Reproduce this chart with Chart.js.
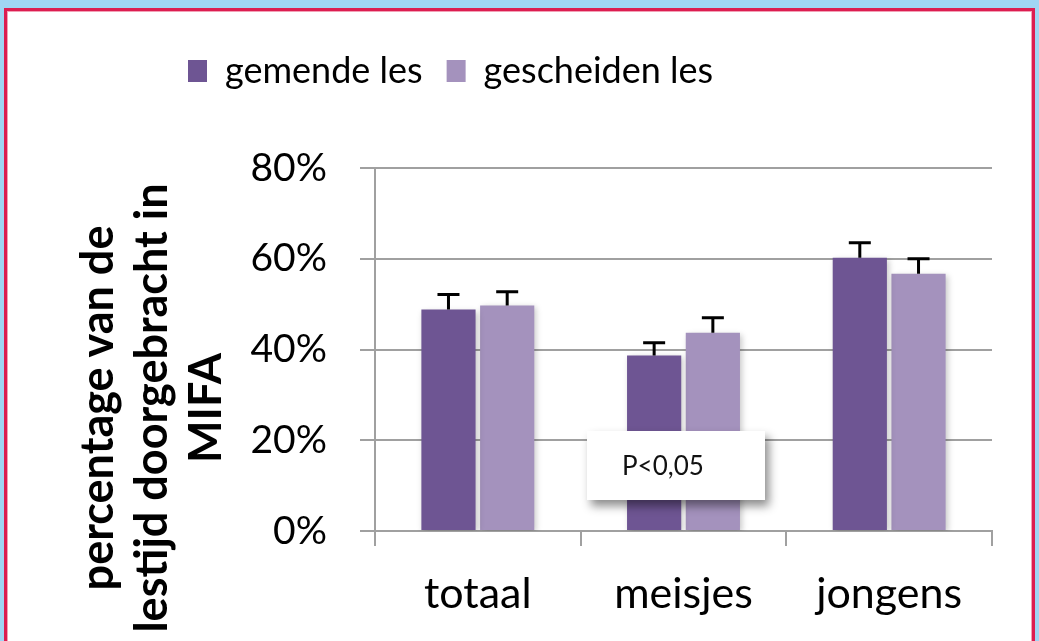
<!DOCTYPE html>
<html>
<head>
<meta charset="utf-8">
<script src="https://cdn.jsdelivr.net/npm/chart.js@4.4.1/dist/chart.umd.min.js"></script>
<style>
  html, body { margin: 0; padding: 0; }
  body { width: 1039px; height: 641px; overflow: hidden; background: #a0d5f3; position: relative; font-family: Lato, sans-serif; }
  #panel { position: absolute; left: 4px; top: 8px; width: 1025px; height: 700px; background: #fff;
           border: 3px solid #dc1d50; box-shadow: inset 0 0 0 1px #f3a0b6; }
  #chart { position: absolute; left: 0; top: 0; }
  #ytitle { position: absolute; left: -94px; top: 321px; width: 500px; height: 174px; line-height: 58px;
            text-align: center; font: bold 45px Lato, sans-serif; color: #000; transform: rotate(-90deg); }
  #pbox { position: absolute; left: 587px; top: 431px; width: 178px; height: 69px; background: #fff;
          box-shadow: 4px 6px 9px rgba(0,0,0,0.45); font: 26px Lato, sans-serif; color: #111; }
  #pbox span { position: absolute; left: 35px; top: 18px; }
</style>
</head>
<body>
<div id="panel"></div>
<canvas id="chart" width="1039" height="641"></canvas>
<div id="ytitle">percentage van de<br>lestijd doorgebracht in<br>MIFA</div>
<div id="pbox"><span>P&lt;0,05</span></div>
<script>
var categories = ['totaal', 'meisjes', 'jongens'];
var seriesNames = ['gemende les', 'gescheiden les'];
var gemende = [48.8, 38.7, 60.2];
var gemendeErr = [3.3, 2.8, 3.3];
var gescheiden = [49.7, 43.7, 56.7];
var gescheidenErr = [3.0, 3.3, 3.3];
var yTicks = [0, 20, 40, 60, 80];

var errorBars = {
  id: 'errorBars',
  afterDatasetsDraw: function(chart){
    var ctx = chart.ctx;
    var y = chart.scales.y;
    chart.data.datasets.forEach(function(ds, i){
      var meta = chart.getDatasetMeta(i);
      meta.data.forEach(function(bar, j){
        var top = y.getPixelForValue(ds.data[j] + ds.errors[j]);
        var base = y.getPixelForValue(ds.data[j]);
        ctx.save();
        ctx.strokeStyle = '#000';
        ctx.lineWidth = 3;
        ctx.beginPath();
        ctx.moveTo(bar.x, base);
        ctx.lineTo(bar.x, top);
        ctx.moveTo(bar.x - 11, top);
        ctx.lineTo(bar.x + 11, top);
        ctx.stroke();
        ctx.restore();
      });
    });
  }
};

var barShadow = {
  id: 'barShadow',
  beforeDatasetsDraw: function(chart){
    var ctx = chart.ctx;
    ctx.save();
    ctx.shadowColor = 'rgba(0,0,0,0.22)';
    ctx.shadowBlur = 6;
    ctx.shadowOffsetX = 2;
    ctx.shadowOffsetY = 2;
  },
  afterDatasetsDraw: function(chart){
    chart.ctx.restore();
  }
};

var legendGap = {
  id: 'legendGap',
  beforeInit: function(chart){
    var fit = chart.legend.fit;
    chart.legend.fit = function(){
      fit.call(this);
      this.height += 69;
    };
  }
};

new Chart(document.getElementById('chart'), {
  type: 'bar',
  data: {
    labels: categories,
    datasets: [
      { label: seriesNames[0], data: gemende, errors: gemendeErr, backgroundColor: '#6e5593' },
      { label: seriesNames[1], data: gescheiden, errors: gescheidenErr, backgroundColor: '#a492bd' }
    ]
  },
  options: {
    responsive: false,
    animation: false,
    categoryPercentage: 0.571,
    barPercentage: 0.923,
    layout: { padding: { left: 164, right: 47, top: 29, bottom: 0 } },
    plugins: {
      legend: {
        align: 'start',
        labels: { font: { family: 'Lato', size: 36 }, color: '#000', boxWidth: 19, boxHeight: 22, padding: 24 }
      },
      tooltip: { enabled: false }
    },
    scales: {
      x: {
        grid: { drawOnChartArea: false, color: '#a0a0a0', lineWidth: 2, tickLength: 15 },
        border: { color: '#a0a0a0', width: 2 },
        ticks: { font: { family: 'Lato', size: 43 }, color: '#000', padding: 22 },
        afterFit: function(s){ s.height = 110; }
      },
      y: {
        min: 0, max: 80,
        afterBuildTicks: function(s){ s.ticks = yTicks.map(function(v){ return { value: v }; }); },
        grid: { color: '#a0a0a0', lineWidth: 2, tickLength: 15 },
        border: { color: '#a0a0a0', width: 2 },
        ticks: { font: { family: 'Lato', size: 39 }, color: '#000', padding: 33,
                 callback: function(v){ return v + '%'; } },
        afterFit: function(s){ s.width = 211; }
      }
    }
  },
  plugins: [legendGap, barShadow, errorBars]
});
</script>
</body>
</html>
